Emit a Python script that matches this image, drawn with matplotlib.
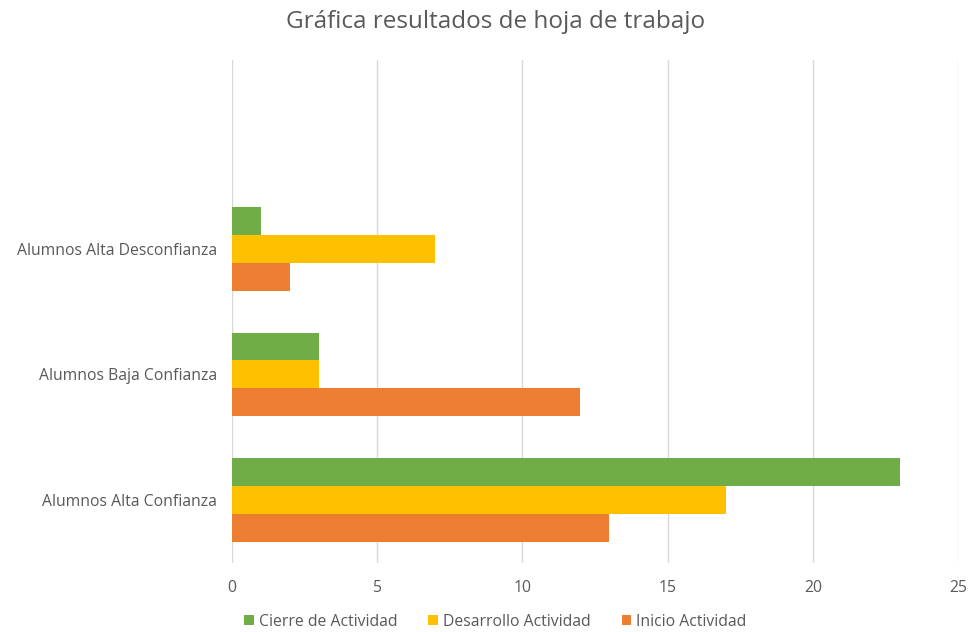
import matplotlib.pyplot as plt
import numpy as np

plt.rcParams['font.family'] = ['Open Sans', 'DejaVu Sans']

# --- Data ---
categorias = ["Alumnos Alta Confianza", "Alumnos Baja Confianza", "Alumnos Alta Desconfianza", ""]
cierre = [23, 3, 1, 0]
desarrollo = [17, 3, 7, 0]
inicio = [13, 12, 2, 0]

series = [("Cierre de Actividad", cierre, "#70AD47"),
          ("Desarrollo Actividad", desarrollo, "#FFC000"),
          ("Inicio Actividad", inicio, "#ED7D31")]

# --- Plot ---
fig = plt.figure(figsize=(9.69, 6.32), dpi=100)
ax = fig.add_axes([0.2394, 0.1092, 0.7492, 0.7958])

y = np.arange(len(categorias))
h = 0.222
offsets = [h, 0, -h]
handles = []
for (name, vals, col), off in zip(series, offsets):
    b = ax.barh(y + off, vals, height=h, color=col, label=name, zorder=3)
    handles.append(b)

ax.set_ylim(-0.5, len(categorias) - 0.5)
ax.set_xlim(0, 25)
ax.set_xticks(range(0, 26, 5))
ax.set_yticks(y[:3])
ax.set_yticklabels(categorias[:3])
ax.grid(axis='x', color='#D9D9D9', linewidth=1, zorder=0)
for s in ax.spines.values():
    s.set_visible(False)
ax.tick_params(length=0, colors='#595959', labelsize=11.3)
ax.tick_params(axis='x', pad=12)
ax.tick_params(axis='y', pad=11)

fig.text(0.511, 0.965, "Gráfica resultados de hoja de trabajo", ha='center', va='center',
         fontsize=17.5, color='#595959')

fig.legend(handles=handles, loc='center', bbox_to_anchor=(0.511, 0.016), ncol=3,
           frameon=False, fontsize=11.3, labelcolor='#595959',
           handlelength=0.6, handleheight=0.6, handletextpad=0.3, columnspacing=2.0)

fig.savefig("out.png", dpi=100)
